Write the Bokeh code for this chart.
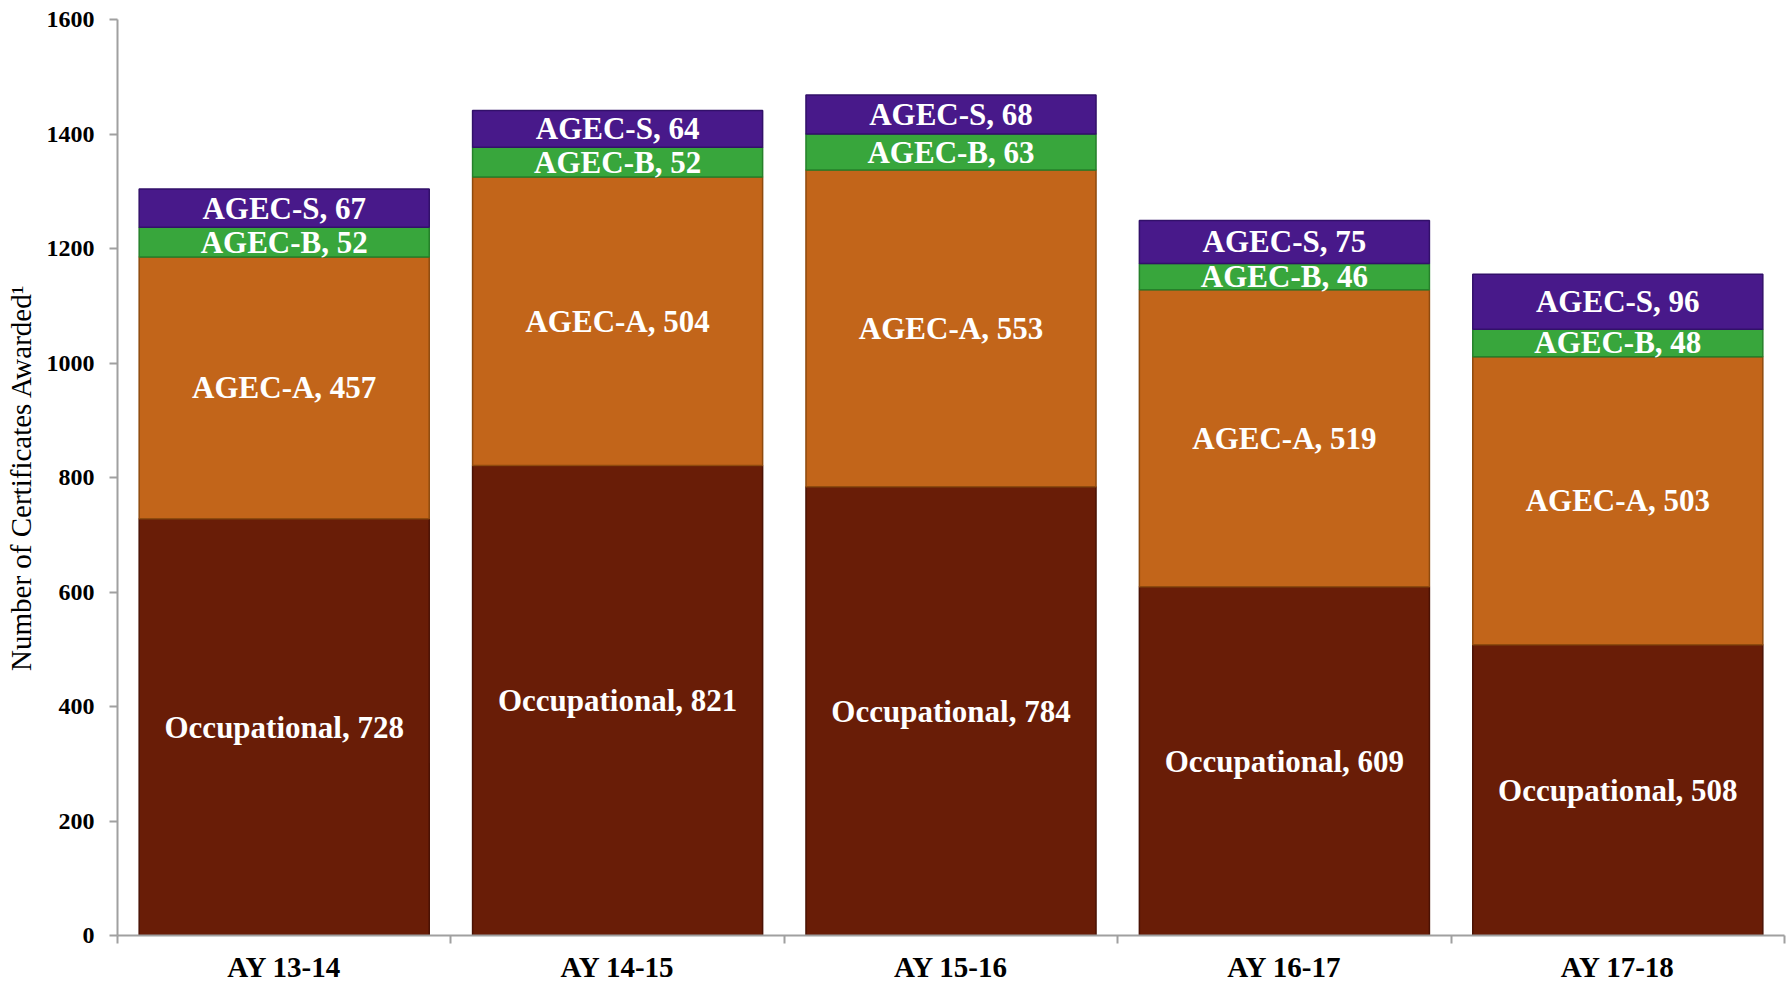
from bokeh.plotting import figure
from bokeh.models import (Range1d, LinearAxis, FixedTicker, ColumnDataSource)
from bokeh.core.properties import value
from bokeh.embed import file_html
from bokeh.resources import INLINE

categories = ["AY 13-14", "AY 14-15", "AY 15-16", "AY 16-17", "AY 17-18"]
occupational = [728, 821, 784, 609, 508]
agec_a = [457, 504, 553, 519, 503]
agec_b = [52, 52, 63, 46, 48]
agec_s = [67, 64, 68, 75, 96]
series_names = ["Occupational", "AGEC-A", "AGEC-B", "AGEC-S"]
y_ticks = [0, 200, 400, 600, 800, 1000, 1200, 1400, 1600]
y_title = "Number of Certificates Awarded\u00b9"

colors = ["#691d07", "#c2651a", "#38a63c", "#48198a"]
edges = ["#4a1204", "#8e4a0e", "#25802a", "#32106a"]
serif = "Liberation Serif"

n = len(categories)
xpos = [i + 0.5 for i in range(n)]

p = figure(x_range=Range1d(0, n), y_range=Range1d(0, 1600),
           width=1787, height=985, output_backend="svg", toolbar_location=None,
           x_axis_location=None, min_border_left=117, min_border_right=3,
           min_border_top=19, min_border_bottom=50)

series = [occupational, agec_a, agec_b, agec_s]
data = {"x": xpos}
keys = ["occ", "a", "b", "s"]
for k, s in zip(keys, series):
    data[k] = s
src = ColumnDataSource(data)
p.vbar_stack(keys, x="x", width=0.87, source=src, fill_color=colors,
             line_color=edges, line_width=1.5)

# labels at segment centers
lx, ly, lt = [], [], []
for i in range(n):
    base = 0
    for name, s in zip(series_names, series):
        lx.append(xpos[i])
        ly.append(base + s[i] / 2)
        lt.append(f"{name}, {s[i]}")
        base += s[i]
p.text(x="x", y="y", text="t", source=ColumnDataSource(dict(x=lx, y=ly, t=lt)),
       text_color="white", text_font=value(serif), text_font_style="bold",
       text_font_size="31px", text_align="center", text_baseline="middle")

# y axis
ya = p.yaxis[0]
ya.ticker = FixedTicker(ticks=y_ticks)
ya.axis_line_color = "#a0a0a0"
ya.axis_line_width = 2
ya.major_tick_line_color = "#a0a0a0"
ya.major_tick_line_width = 2
ya.major_tick_out = 8
ya.major_tick_in = 0
ya.minor_tick_line_color = None
ya.major_label_text_font = serif
ya.major_label_text_font_style = "bold"
ya.major_label_text_font_size = "24px"
ya.major_label_text_color = "black"
ya.major_label_standoff = 15
ya.axis_label = y_title
ya.axis_label_text_font = serif
ya.axis_label_text_font_style = "normal"
ya.axis_label_text_font_size = "29px"
ya.axis_label_text_color = "black"
ya.axis_label_standoff = 7

# x axis: category labels at centers, boundary ticks as minor ticks
xa = LinearAxis(ticker=FixedTicker(ticks=xpos, minor_ticks=list(range(n + 1))),
                major_label_overrides={x: c for x, c in zip(xpos, categories)},
                axis_line_color="#a0a0a0", axis_line_width=2,
                major_tick_line_color=None, major_tick_out=0, major_tick_in=0,
                minor_tick_line_color="#a0a0a0", minor_tick_line_width=2,
                minor_tick_out=8, minor_tick_in=0,
                major_label_text_font=serif,
                major_label_text_font_style="bold",
                major_label_text_font_size="29px",
                major_label_text_color="black",
                major_label_standoff=7)
p.add_layout(xa, "below")

p.xgrid.visible = False
p.ygrid.visible = False
p.outline_line_color = None
p.background_fill_color = "white"
p.border_fill_color = "white"

open("out.html", "w").write(file_html(p, INLINE))
